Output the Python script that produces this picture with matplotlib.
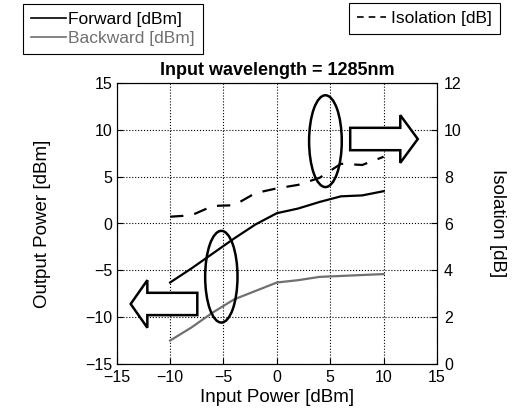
import numpy as np
import matplotlib
matplotlib.use("Agg")
import matplotlib.pyplot as plt
from matplotlib.patches import Ellipse, FancyArrow
from matplotlib.lines import Line2D

plt.rcParams['font.family'] = ['Liberation Sans', 'DejaVu Sans']
plt.rcParams['font.size'] = 11.5

# data
input_power = [-10, -8, -6, -4, -2, 0, 2, 4, 6, 8, 10]
forward = [-6.3, -4.8, -3.2, -1.6, -0.1, 1.1, 1.6, 2.3, 2.9, 3.0, 3.45]
backward = [-12.5, -11.1, -9.5, -8.1, -7.2, -6.3, -6.05, -5.7, -5.6, -5.5, -5.4]
isolation = [6.29, 6.35, 6.75, 6.78, 7.3, 7.5, 7.65, 7.95, 8.55, 8.5, 8.85]

x_ticks = [-15, -10, -5, 0, 5, 10, 15]
left_ticks = [-15, -10, -5, 0, 5, 10, 15]
right_ticks = [0, 2, 4, 6, 8, 10, 12]

fig = plt.figure(figsize=(5.15, 4.11), dpi=100)
ax = fig.add_axes([116.7 / 515, 47 / 411, 320.3 / 515, 281 / 411])
ax2 = ax.twinx()

ax.plot(input_power, forward, color='black', lw=1.6)
ax.plot(input_power, backward, color='#707070', lw=1.6)
ax2.plot(input_power, isolation, color='black', lw=1.6, dashes=(6, 5))

ax.set_xlim(-15, 15)
ax.set_ylim(-15, 15)
ax2.set_ylim(0, 12)
ax.set_xticks(x_ticks)
ax.set_yticks(left_ticks)
ax2.set_yticks(right_ticks)
ax.grid(True, color='black', ls=':', lw=0.8)
ax.tick_params(direction='in', length=4, pad=3)
ax.tick_params(axis='x', pad=4)
ax2.tick_params(direction='in', length=4, pad=5)

ax.set_xlabel('Input Power [dBm]', fontsize=13.5)
ax.xaxis.set_label_coords(0.5, -0.088)
ax.set_ylabel('Output Power [dBm]', fontsize=13.5, va='center')
ax.yaxis.set_label_coords(-0.233, 0.5)
ax2.set_ylabel('Isolation [dB]', fontsize=13.5, rotation=270, va='center')
ax2.yaxis.set_label_coords(1.19, 0.5)
ax.set_title('Input wavelength = 1285nm', fontweight='bold', fontsize=13, pad=6)

# annotations: ellipses and arrows
ax.add_patch(Ellipse((4.55, 8.79), 3.06, 9.8, fill=False, ec='black', lw=1.8, zorder=5))
ax.add_patch(Ellipse((-5.2, -5.68), 3.03, 9.79, fill=False, ec='black', lw=1.8, zorder=5))
ax.add_patch(FancyArrow(6.87, 9.02, 6.33, 0, width=2.39, head_width=5.09, head_length=1.64,
                        length_includes_head=True, fc='white', ec='black', lw=1.8, zorder=6))
ax.add_patch(FancyArrow(-7.45, -8.59, -6.24, 0, width=2.38, head_width=5.08, head_length=1.56,
                        length_includes_head=True, fc='white', ec='black', lw=1.8, zorder=6))

h1 = [Line2D([], [], color='black', lw=1.2), Line2D([], [], color='#707070', lw=1.2)]
leg1 = fig.legend(h1, ['Forward [dBm]', 'Backward [dBm]'], loc='upper left',
                  bbox_to_anchor=(23 / 515, 1 - 4 / 411), fancybox=False, framealpha=1,
                  edgecolor='black', handlelength=2.0, handletextpad=0.15, borderpad=0.45,
                  labelspacing=0.25, borderaxespad=0, fontsize=12.5)
leg1.get_frame().set_linewidth(0.8)
leg1.get_texts()[1].set_color('#707070')

h2 = [Line2D([], [], color='black', lw=1.2, dashes=(4, 3))]
leg2 = fig.legend(h2, ['Isolation [dB]'], loc='upper right',
                  bbox_to_anchor=(500 / 515, 1 - 3 / 411), fancybox=False, framealpha=1,
                  edgecolor='black', handlelength=1.7, handletextpad=0.3, borderpad=0.45,
                  borderaxespad=0, fontsize=12.5)
leg2.get_frame().set_linewidth(0.8)

fig.savefig('out.png', dpi=100)
